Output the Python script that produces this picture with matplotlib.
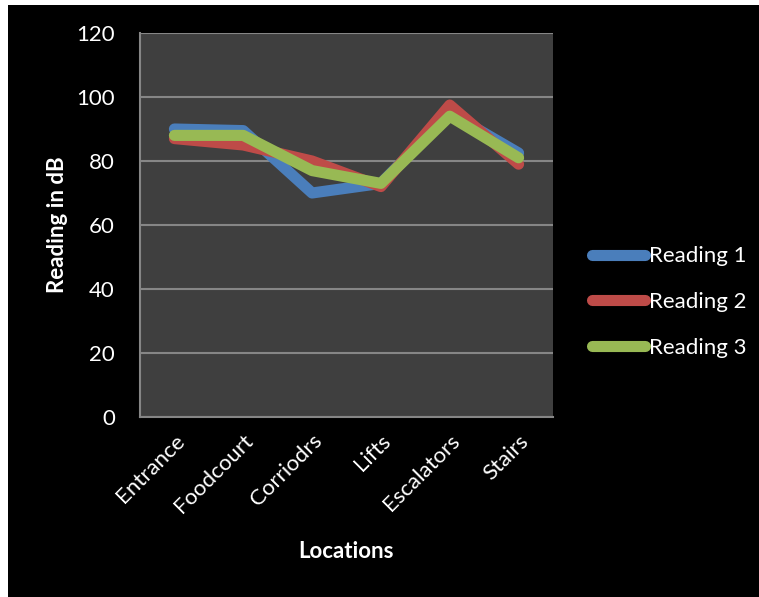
import matplotlib
matplotlib.use("Agg")
import matplotlib.pyplot as plt
from matplotlib.patches import Rectangle

locations = ["Entrance", "Foodcourt", "Corriodrs", "Lifts", "Escalators", "Stairs"]
reading1 = [90, 89.5, 70, 73, 95, 82.5]
reading2 = [87, 85, 80, 72, 97.5, 79]
reading3 = [88, 88, 77, 73, 94, 81]
series_names = ["Reading 1", "Reading 2", "Reading 3"]
colors = ["#4a7ebb", "#be4b48", "#98b954"]
yticks = [0, 20, 40, 60, 80, 100, 120]

plt.rcParams['font.family'] = ['Lato', 'DejaVu Sans']

W, H = 759, 597
fig = plt.figure(figsize=(W/100, H/100), dpi=100, facecolor="white")
# black chart background with white margin on left/top
fig.patches.append(Rectangle((8/W, 0), 1 - 8/W, 1 - 5/H, transform=fig.transFigure,
                             facecolor="black", edgecolor="none", zorder=-10))

left, right, top, bottom = 140, 553, 33, 417
ax = fig.add_axes([left/W, 1 - bottom/H, (right-left)/W, (bottom-top)/H])
ax.set_zorder(1)
ax.set_facecolor("#3f3f3f")

x = list(range(len(locations)))
for vals, c, n in zip([reading1, reading2, reading3], colors, series_names):
    ax.plot(x, vals, color=c, lw=8, solid_capstyle="round", solid_joinstyle="round", label=n)

ax.set_xlim(-0.5, len(locations) - 0.5)
ax.set_ylim(0, 120)
ax.set_yticks(yticks)
ax.set_yticklabels([str(v) for v in yticks], color="white", fontsize=16)
ax.set_xticks(x)
ax.set_xticklabels(locations, rotation=45, ha="right", rotation_mode="anchor",
                   color="white", fontsize=16)
ax.tick_params(axis="both", length=0)
ax.tick_params(axis="x", pad=10)
ax.tick_params(axis="y", pad=18)
ax.grid(axis="y", color="#868686", lw=1.5)
ax.set_axisbelow(True)
for s in ["top", "right"]:
    ax.spines[s].set_visible(False)
for s in ["left", "bottom"]:
    ax.spines[s].set_color("#868686")
    ax.spines[s].set_linewidth(1.5)

fig.text(58/W, 1 - 225/H, "Reading in dB", rotation=90, color="white", fontsize=16,
         fontweight="bold", ha="center", va="center")
fig.text(346/W, 1 - 552/H, "Locations", color="white", fontsize=16,
         fontweight="bold", ha="center", va="center")

leg = fig.legend(loc="center left", bbox_to_anchor=(572/W, 1 - 302/H), frameon=False,
                 fontsize=16, handlelength=2.4, handletextpad=0.15, labelspacing=1.15,
                 labelcolor="white")

fig.savefig("out.png", dpi=100, facecolor=fig.get_facecolor())
